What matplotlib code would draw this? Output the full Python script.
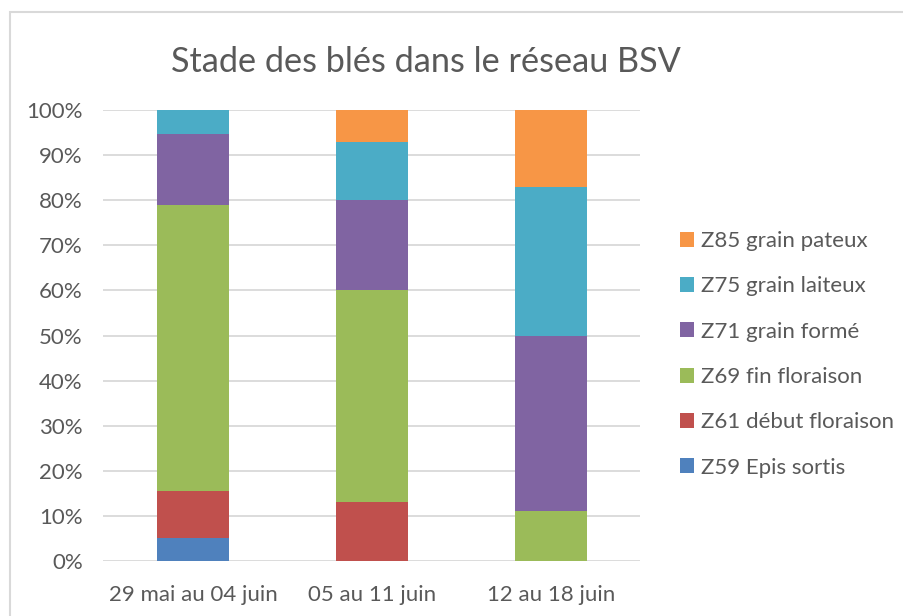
import matplotlib
matplotlib.use("Agg")
import matplotlib.pyplot as plt
from matplotlib.patches import Rectangle

categories = ["29 mai au 04 juin", "05 au 11 juin", "12 au 18 juin"]
series_names = ["Z59 Epis sortis", "Z61 début floraison", "Z69 fin floraison",
                "Z71 grain formé", "Z75 grain laiteux", "Z85 grain pateux"]
z59 = [5.2, 0, 0]
z61 = [10.4, 13, 0]
z69 = [63.4, 47, 11]
z71 = [15.7, 20, 39]
z75 = [5.3, 13, 33]
z85 = [0, 7, 17]
series_values = [z59, z61, z69, z71, z75, z85]
colors = ["#4F81BD", "#C0504D", "#9BBB59", "#8064A2", "#4BACC6", "#F79646"]
yticks = [0, 10, 20, 30, 40, 50, 60, 70, 80, 90, 100]
ytick_labels = [f"{v}%" for v in yticks]

plt.rcParams['font.family'] = ['Lato', 'DejaVu Sans']
txt = "#595959"

fig = plt.figure(figsize=(9.04, 6.16), dpi=100)
# outer border
fig.patches.append(Rectangle((9.5/904, -0.1), 2, (616-11.5)/616 + 0.1, transform=fig.transFigure,
                             fill=False, edgecolor="#d9d9d9", linewidth=1.5))

ax = fig.add_axes([103.5/904, 55/616, 537/904, 451/616])
x = list(range(len(categories)))
bottom = [0.0] * len(categories)
handles = []
for name, vals, c in zip(series_names, series_values, colors):
    b = ax.bar(x, vals, width=0.40, bottom=bottom, color=c, label=name, zorder=3)
    handles.append(b)
    bottom = [bb + v for bb, v in zip(bottom, vals)]

ax.set_xlim(-0.5, len(categories) - 0.5)
ax.set_ylim(0, 100)
ax.set_yticks(yticks)
ax.set_yticklabels(ytick_labels)
ax.set_xticks(x)
ax.set_xticklabels(categories)
ax.tick_params(axis='both', length=0, colors=txt, labelsize=16)
ax.tick_params(axis='y', pad=15)
ax.tick_params(axis='x', pad=17)
ax.grid(axis='y', color="#d9d9d9", linewidth=1.3, zorder=0)
for s in ax.spines.values():
    s.set_visible(False)

fig.text(426/904, 1 - 62/616, "Stade des blés dans le réseau BSV", ha='center', va='center',
         fontsize=24.7, color=txt)

leg = fig.legend(handles[::-1], series_names[::-1], loc='upper left',
                 bbox_to_anchor=(680/904, 1 - 231/616), frameon=False,
                 fontsize=16, labelcolor=txt, handlelength=0.65, handleheight=0.65,
                 handletextpad=0.3, labelspacing=1.14, borderaxespad=0, borderpad=0)

fig.savefig("out.png", dpi=100)
